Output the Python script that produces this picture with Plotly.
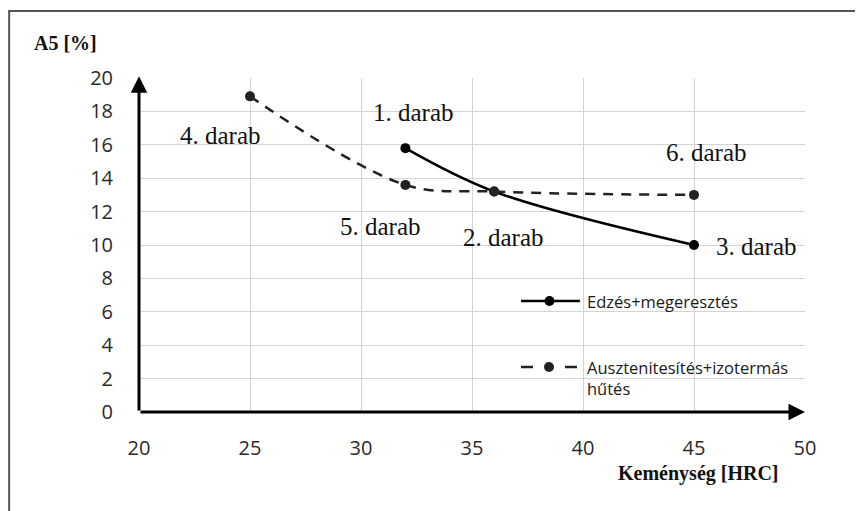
import plotly.graph_objects as go

# data
hardness_1 = [32, 36, 45]
a5_1 = [15.8, 13.2, 10.0]
labels_1 = ["1. darab", "2. darab", "3. darab"]

hardness_2 = [25, 32, 36, 45]
a5_2 = [18.9, 13.6, 13.2, 13.0]
labels_2 = ["4. darab", "5. darab", "", "6. darab"]

series_names = ["Edzés+megeresztés", "Ausztenitesítés+izotermás<br>hűtés"]

x_ticks = [20, 25, 30, 35, 40, 45, 50]
y_ticks = [0, 2, 4, 6, 8, 10, 12, 14, 16, 18, 20]

# label offsets (px) from each point
shift_1 = [(8, 36), (9, -46), (62, -1)]
shift_2 = [(-30, -39), (-25, -42), (0, 0), (12, 42)]

fig = go.Figure()
fig.add_trace(go.Scatter(x=hardness_1, y=a5_1, mode="lines+markers",
                         line=dict(color="black", width=2.5, shape="spline", smoothing=1),
                         marker=dict(color="black", size=10),
                         name=series_names[0], showlegend=False))
fig.add_trace(go.Scatter(x=hardness_2, y=a5_2, mode="lines+markers",
                         line=dict(color="#222", width=2.5, dash="10px,8px", shape="spline", smoothing=1),
                         marker=dict(color="#222", size=10),
                         name=series_names[1], showlegend=False))

annotations = []
#point labels
for xs, ys, labs, shifts in [(hardness_1, a5_1, labels_1, shift_1), (hardness_2, a5_2, labels_2, shift_2)]:
    for x, y, t, s in zip(xs, ys, labs, shifts):
        if t:
            annotations.append(dict(x=x, y=y, text=t, showarrow=False, xshift=s[0], yshift=s[1],
                                    font=dict(family="Liberation Serif", size=25, color="#111")))

# axis arrows
annotations.append(dict(x=20, y=20.1, ax=20, ay=0, xref="x", yref="y", axref="x", ayref="y",
                        text="", showarrow=True, arrowhead=2, arrowsize=1.1, arrowwidth=3, arrowcolor="black"))
annotations.append(dict(x=50, y=0, ax=20, ay=0, xref="x", yref="y", axref="x", ayref="y",
                        text="", showarrow=True, arrowhead=2, arrowsize=1.1, arrowwidth=3, arrowcolor="black"))

# axis titles
annotations.append(dict(x=-0.161, y=1.105, xref="paper", yref="paper", xanchor="left", yanchor="middle",
                        text="<b>A5 [%]</b>", showarrow=False,
                        font=dict(family="Liberation Serif", size=20, color="#111")))
annotations.append(dict(x=0.84, y=-0.183, xref="paper", yref="paper", xanchor="center", yanchor="middle",
                        text="<b>Keménység [HRC]</b>", showarrow=False,
                        font=dict(family="Liberation Serif", size=20, color="#111")))

# hand drawn legend
leg_font = dict(family="Open Sans", size=16.5, color="#1a1a1a")
annotations.append(dict(x=0.669, y=0.3323, xref="paper", yref="paper", xanchor="left", yanchor="middle",
                        text=series_names[0], showarrow=False, font=leg_font))
annotations.append(dict(x=0.669, y=0.175, xref="paper", yref="paper", xanchor="left", yanchor="top",
                        text=series_names[1], showarrow=False, align="left", font=leg_font))

shapes = [
    dict(type="line", xref="paper", yref="paper", x0=0.5736, x1=0.662, y0=0.3323, y1=0.3323,
         line=dict(color="black", width=2.5)),
    dict(type="circle", xref="paper", yref="paper", x0=0.6088, x1=0.6238, y0=0.3323 - 0.015, y1=0.3323 + 0.015,
         fillcolor="black", line=dict(color="black", width=0)),
    dict(type="line", xref="paper", yref="paper", x0=0.5736, x1=0.5916, y0=0.1347, y1=0.1347,
         line=dict(color="#222", width=2.5)),
    dict(type="line", xref="paper", yref="paper", x0=0.6396, x1=0.6576, y0=0.1347, y1=0.1347,
         line=dict(color="#222", width=2.5)),
    dict(type="circle", xref="paper", yref="paper", x0=0.6081, x1=0.6231, y0=0.1347 - 0.015, y1=0.1347 + 0.015,
         fillcolor="#222", line=dict(color="#222", width=0)),
    # outer frame (top and left edges visible)
    dict(type="rect", xref="paper", yref="paper", x0=-0.195, x1=1.15, y0=-0.35, y1=1.2006,
         line=dict(color="#555", width=2)),
]

# page body has an 8px margin, so the figure is 8px smaller than the window
fig.update_layout(
    width=855, height=503,
    margin=dict(l=131, r=58, t=70, b=99),
    plot_bgcolor="white", paper_bgcolor="white",
    annotations=annotations, shapes=shapes,
)
fig.update_xaxes(range=[20, 50], tickvals=x_ticks, showgrid=True, gridcolor="#d4d4d4", gridwidth=1,
                 zeroline=False, showline=False, ticks="", ticklabelstandoff=22,
                 tickfont=dict(family="Open Sans", size=20, color="#2a2a2a"))
fig.update_yaxes(range=[0, 20], tickvals=y_ticks, showgrid=True, gridcolor="#d4d4d4", gridwidth=1,
                 zeroline=False, showline=False, ticks="", ticklabelstandoff=25,
                 tickfont=dict(family="Open Sans", size=20, color="#2a2a2a"))

fig.write_html("out.html")
